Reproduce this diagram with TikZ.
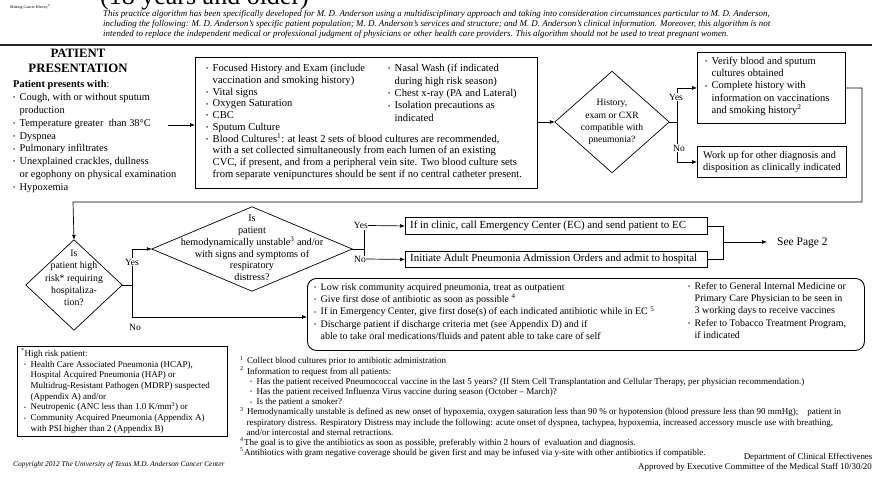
\documentclass[tikz,border=0pt]{standalone}
\usepackage{fontspec}
\setmainfont{Liberation Serif}
\usetikzlibrary{arrows.meta}
\newcommand{\bu}{\makebox[6.5pt][l]{\raisebox{0.15ex}{\scalebox{0.6}{\textbullet}}}}
\newcommand{\ind}{\hspace*{6.5pt}}
\newcommand{\sn}[1]{\makebox[7pt][l]{\textsuperscript{#1}}}
\tikzset{
 bx/.style={draw, line width=0.9pt, inner sep=0pt, anchor=north west},
 arr/.style={-{Latex[length=5pt,width=4pt]}, line width=0.7pt},
 ln/.style={line width=0.7pt},
 txt/.style={inner sep=0pt, anchor=north west, align=left},
 dtext/.style={inner sep=0pt, align=center},
 lab/.style={inner sep=1pt, fill=white, font=\fontsize{9.5}{10}\selectfont},
}
\begin{document}
\begin{tikzpicture}[x=1pt,y=-1pt]
\path[use as bounding box, fill=white] (0,0) rectangle (872,481);

% header
\node[inner sep=0pt, anchor=base west, font=\fontsize{26}{26}\selectfont] (title) at (100,5) {(18 years and older)};
\node[txt, font=\fontsize{4}{5}\selectfont] (logo) at (10,4) {Making Cancer History\textsuperscript{®}};
\node[txt, font=\fontsize{8.9}{9.6}\selectfont\itshape] (disc) at (103,10.5) {This practice algorithm has been specifically developed for M. D. Anderson using a multidisciplinary approach and taking into consideration circumstances particular to M. D. Anderson,\\
including the following: M. D. Anderson's specific patient population; M. D. Anderson's services and structure; and M. D. Anderson's clinical information. Moreover, this algorithm is not\\
intended to replace the independent medical or professional judgment of physicians or other health care providers. This algorithm should not be used to treat pregnant women.};
\draw[line width=2.4pt, black!85] (0,45) -- (872,45);

% patient presentation
\node[inner sep=0pt, font=\fontsize{12.8}{14}\selectfont\bfseries] (pp1) at (78,53) {PATIENT};
\node[inner sep=0pt, font=\fontsize{12.8}{14}\selectfont\bfseries] (pp2) at (78,68) {PRESENTATION};
\node[txt, font=\fontsize{10.4}{12.8}\selectfont] (ppl) at (13,80.5) {\textbf{Patient presents with}:\\
\bu Cough, with or without sputum\\
\ind production\\
\bu Temperature greater\ \ than 38\textdegree C\\
\bu Dyspnea\\
\bu Pulmonary infiltrates\\
\bu Unexplained crackles, dullness\\
\ind or egophony on physical examination\\
\bu Hypoxemia};
\coordinate (tempend) at (168,125);

% assessment box
\node[bx, minimum width=342pt, minimum height=131pt] (assess) at (195,57) {};
\node[txt, font=\fontsize{10.6}{11.75}\selectfont] (assessL) at (206,64) {\bu Focused History and Exam (include\\
\ind vaccination and smoking history)\\
\bu Vital signs\\
\bu Oxygen Saturation\\
\bu CBC\\
\bu Sputum Culture\\
\bu Blood Cultures\textsuperscript{1}: at least 2 sets of blood cultures are recommended,\\
\ind with a set collected simultaneously from each lumen of an existing\\
\ind CVC, if present, and from a peripheral vein site. Two blood culture sets\\
\ind from separate venipunctures should be sent if no central catheter present.};
\node[txt, font=\fontsize{10.6}{12.4}\selectfont] (assessR) at (388,64) {\bu Nasal Wash (if indicated\\
\ind during high risk season)\\
\bu Chest x-ray (PA and Lateral)\\
\bu Isolation precautions as\\
\ind indicated};
\draw[arr] (tempend) -- (assess.west |- tempend);

% diamond 1
\node[dtext, font=\fontsize{9.6}{12.2}\selectfont, minimum width=114pt, minimum height=101pt] (d1) at (612,122) {History,\\ exam or CXR\\ compatible with\\ pneumonia?};
\draw[ln] (d1.north) -- (d1.east) -- (d1.south) -- (d1.west) -- cycle;
\draw[arr] (assess.east |- d1.west) -- (d1.west);

% yes / no boxes
\node[bx, minimum width=148pt, minimum height=71pt] (yesb) at (697,52) {};
\node[txt, font=\fontsize{10.5}{12.2}\selectfont] (yesbt) at (705,57) {\bu Verify blood and sputum\\
\ind cultures obtained\\
\bu Complete history with\\
\ind information on vaccinations\\
\ind and smoking history\textsuperscript{2}};
\node[bx, minimum width=149pt, minimum height=31pt] (nob) at (697,146) {};
\node[inner sep=0pt, align=left, font=\fontsize{10.3}{11.5}\selectfont] (nobt) at (nob.center) {Work up for other diagnosis and\\ disposition as clinically indicated};
\coordinate (j1) at (677,122);
\draw[ln] (d1.east) -- (j1);
\draw[ln] (j1 |- yesb.west) -- (j1 |- nob.west);
\draw[arr] (j1 |- yesb.west) -- (yesb.west);
\draw[arr] (j1 |- nob.west) -- (nob.west);
\node[lab] (yes1) at (676,97) {Yes};
\node[lab] (no1) at (679,148) {No};

% loop back
\coordinate (r1) at (862,202);
\coordinate (l1) at (73,202);
\node[inner sep=0pt, minimum width=96pt, minimum height=90pt] (d2) at (74,285) {};
\draw[ln] (d2.north) -- (d2.east) -- (d2.south) -- (d2.west) -- cycle;
\node[dtext, font=\fontsize{9.8}{12.4}\selectfont] (d2t) at (74,278) {Is\\ patient high\\ risk* requiring\\ hospitaliza-\\ tion?};
\draw[arr] (yesb.east) -| (r1) -- (l1) -- (d2.north);

% diamond 3
\node[inner sep=0pt, minimum width=200pt, minimum height=84pt] (d3) at (252,249) {};
\draw[ln] (d3.north) -- (d3.east) -- (d3.south) -- (d3.west) -- cycle;
\node[dtext, font=\fontsize{10.2}{11.8}\selectfont] (d3t) at (252,248) {Is\\ patient\\ hemodynamically unstable\textsuperscript{3} and/or\\ with signs and symptoms of\\ respiratory\\ distress?};

% outpatient box
\node[bx, rounded corners=9pt, minimum width=557pt, minimum height=72pt] (outp) at (307,278) {};
\node[txt, font=\fontsize{10}{12.3}\selectfont] (outL) at (314,283) {\bu Low risk community acquired pneumonia, treat as outpatient\\
\bu Give first dose of antibiotic as soon as possible \textsuperscript{4}\\
\bu If in Emergency Center, give first dose(s) of each indicated antibiotic while in EC \textsuperscript{5}\\
\bu Discharge patient if discharge criteria met (see Appendix D) and if\\
\ind able to take oral medications/fluids and patent able to take care of self};
\node[txt, font=\fontsize{10}{12.3}\selectfont] (outR) at (688,282) {\bu Refer to General Internal Medicine or\\
\ind Primary Care Physician to be seen in\\
\ind 3 working days to receive vaccines\\
\bu Refer to Tobacco Treatment Program,\\
\ind if indicated};

% d2 branches
\coordinate (j2) at (132,285);
\draw[ln] (d2.east) -- (j2);
\draw[ln] (j2 |- d3.west) -- (132,317);
\draw[arr] (j2 |- d3.west) -- (d3.west);
\draw[arr] (132,317) -- (outp.west |- 0,317);
\node[lab] (yes2) at (132,262) {Yes};
\node[lab] (no2) at (135,327) {No};

% d3 branches
\node[bx, minimum width=302pt, minimum height=17pt] (ecb) at (405,217) {};
\node[inner sep=0pt, font=\fontsize{10.9}{11}\selectfont, anchor=west] (ecbt) at (410,225.5) {If in clinic, call Emergency Center (EC) and send patient to EC};
\node[bx, minimum width=302pt, minimum height=16pt] (inb) at (405,251) {};
\node[inner sep=0pt, font=\fontsize{10.9}{11}\selectfont, anchor=west] (inbt) at (410,259) {Initiate Adult Pneumonia Admission Orders and admit to hospital};
\coordinate (j3) at (364,249);
\draw[ln] (d3.east) -- (j3);
\draw[ln] (364,230) -- (364,256);
\node[lab, anchor=east, inner sep=0pt] (yes3) at (368,225.5) {Yes};
\node[lab, anchor=east, inner sep=0pt] (no3) at (366,259) {No};
\draw[arr] (yes3.east) -- (ecb.west);
\draw[arr] (no3.east) -- (inb.west);

% see page 2
\coordinate (j4) at (723,242);
\draw[ln] (ecb.east) -| (j4);
\draw[ln] (inb.east) -| (j4);
\node[inner sep=0pt, anchor=west, font=\fontsize{11.5}{12}\selectfont] (sp2) at (777,243) {See Page 2};
\draw[arr] (j4) -- (767,242);

% high risk box
\node[bx, minimum width=210pt, minimum height=90pt] (hr) at (17,346) {};
\node[txt, font=\fontsize{9}{10.7}\selectfont] (hrt) at (21,348.5) {\textsuperscript{*}High risk patient:\\
\hspace*{3pt}\bu Health Care Associated Pneumonia (HCAP),\\
\hspace*{3pt}\ind Hospital Acquired Pneumonia (HAP) or\\
\hspace*{3pt}\ind Multidrug-Resistant Pathogen (MDRP) suspected\\
\hspace*{3pt}\ind (Appendix A) and/or\\
\hspace*{3pt}\bu Neutropenic (ANC less than 1.0 K/mm\textsuperscript{3}) or\\
\hspace*{3pt}\bu Community Acquired Pneumonia (Appendix A)\\
\hspace*{3pt}\ind with PSI higher than 2 (Appendix B)};

% footnotes
\node[txt, font=\fontsize{9}{10.2}\selectfont] (fn) at (240,356) {\sn{1}Collect blood cultures prior to antibiotic administration\\
\sn{2}Information to request from all patients:\\
\hspace*{10pt}\bu Has the patient received Pneumococcal vaccine in the last 5 years? (If Stem Cell Transplantation and Cellular Therapy, per physician recommendation.)\\
\hspace*{10pt}\bu Has the patient received Influenza Virus vaccine during season (October -- March)?\\
\hspace*{10pt}\bu Is the patient a smoker?\\
\sn{3}Hemodynamically unstable is defined as new onset of hypoxemia, oxygen saturation less than 90 \% or hypotension (blood pressure less than 90 mmHg);\quad patient in\\
\ind respiratory distress. Respiratory Distress may include the following: acute onset of dyspnea, tachypea, hypoxemia, increased accessory muscle use with breathing,\\
\ind and/or intercostal and sternal retractions.\\
\makebox[4pt][l]{\textsuperscript{4}}The goal is to give the antibiotics as soon as possible, preferably within 2 hours of\ \ evaluation and diagnosis.\\
\makebox[4pt][l]{\textsuperscript{5}}Antibiotics with gram negative coverage should be given first and may be infused via y-site with other antibiotics if compatible.};

\node[inner sep=0pt, anchor=east, font=\fontsize{8.9}{9}\selectfont] (dept) at (876,457) {Department of Clinical Effectiveness};
\node[inner sep=0pt, anchor=west, font=\fontsize{8.9}{9}\selectfont] (appr) at (638,467) {Approved by Executive Committee of the Medical Staff 10/30/2012};
\node[inner sep=0pt, anchor=west, font=\fontsize{7.4}{9}\selectfont\itshape] (copy) at (13,465) {Copyright 2012 The University of Texas M.D. Anderson Cancer Center};
\end{tikzpicture}
\end{document}
